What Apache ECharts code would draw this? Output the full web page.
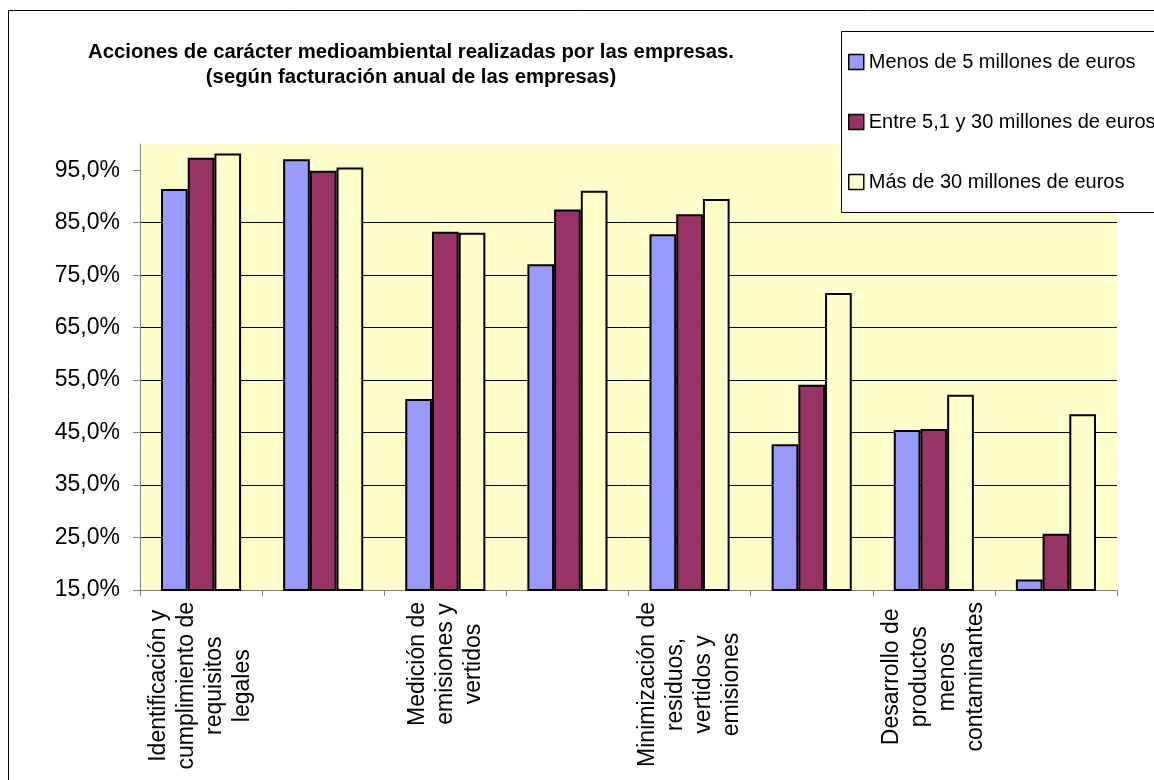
<!DOCTYPE html>
<html>
<head>
<meta charset="utf-8">
<script src="https://cdn.jsdelivr.net/npm/echarts@6/dist/echarts.min.js"></script>
<style>
html,body{margin:0;padding:0;background:#fff;}
#chart{width:1154px;height:780px;}
</style>
</head>
<body>
<div id="chart"></div>
<script>
var categories = [
  'Identificación y\ncumplimiento de\nrequisitos\nlegales',
  '',
  'Medición de\nemisiones y\nvertidos',
  '',
  'Minimización de\nresiduos,\nvertidos y\nemisiones',
  '',
  'Desarrollo de\nproductos\nmenos\ncontaminantes',
  ''
];
var seriesNames = ['Menos de 5 millones de euros', 'Entre 5,1 y 30 millones de euros', 'Más de 30 millones de euros'];
var menos5 = [91.4, 97.1, 51.4, 77.1, 82.8, 42.8, 45.5, 17.0];
var entre5y30 = [97.4, 94.9, 83.3, 87.5, 86.6, 54.1, 45.7, 25.7];
var mas30 = [98.2, 95.5, 83.1, 91.1, 89.5, 71.6, 52.2, 48.5];
var yTicks = [15, 25, 35, 45, 55, 65, 75, 85, 95];
var titleLines = ['Acciones de carácter medioambiental realizadas por las empresas.', '(según facturación anual de las empresas)'];

var FONT = '"Liberation Sans", Arial, sans-serif';
var colors = ['#9999FF', '#993366', '#FFFFCC'];

var chart = echarts.init(document.getElementById('chart'), null, {renderer: 'canvas'});
var values = [menos5, entre5y30, mas30];

function bar(i) {
  return {
    name: seriesNames[i],
    type: 'bar',
    data: values[i],
    barGap: '0%',
    barCategoryGap: '34.4%',
    clip: true,
    itemStyle: {color: colors[i], borderColor: '#000', borderWidth: 2},
    emphasis: {disabled: true}
  };
}

chart.setOption({
  animation: false,
  backgroundColor: '#fff',
  textStyle: {fontFamily: FONT},
  graphic: [
    {type: 'rect', shape: {x: 8.5, y: 10.5, width: 1400, height: 1000}, style: {fill: 'none', stroke: '#000', lineWidth: 1}, z: -1, silent: true},
    {type: 'rect', shape: {x: 841.5, y: 31.5, width: 400, height: 181}, style: {fill: '#fff', stroke: '#000', lineWidth: 1}, z: 50, silent: true},
    {type: 'text', x: 411, y: 39.5, style: {text: titleLines.join('\n'), font: 'bold 20.3px ' + FONT, textAlign: 'center', textVerticalAlign: 'top', lineHeight: 25, fill: '#000'}, silent: true}
  ],
  legend: {
    orient: 'vertical',
    left: 841,
    top: 31,
    padding: [19, 0, 18, 7],
    itemGap: 36,
    itemWidth: 15,
    itemHeight: 15,
    icon: 'rect',
    borderWidth: 0,
    textStyle: {fontSize: 20, fontFamily: FONT, color: '#000', lineHeight: 24},
    itemStyle: {borderWidth: 1.5, borderColor: '#000'},
    data: seriesNames,
    selectedMode: false,
    z: 60
  },
  grid: {
    left: 140, right: 37, top: 144, bottom: 190,
    show: true, backgroundColor: '#FFFFCC', borderWidth: 0,
    containLabel: false
  },
  xAxis: {
    type: 'category',
    data: categories,
    axisLine: {lineStyle: {color: '#808080', width: 1}},
    axisTick: {show: true, length: 6, lineStyle: {color: '#808080'}},
    axisLabel: {
      interval: 0,
      rotate: 90,
      margin: 12,
      color: '#000',
      fontSize: 23,
      fontFamily: FONT,
      lineHeight: 28,
      formatter: function (v) {
        if (!v) return '';
        return v.split('\n').map(function (s) { return '{c|' + s + '}'; }).join('\n');
      },
      rich: {c: {align: 'center', fontSize: 23, fontFamily: FONT, lineHeight: 28, color: '#000'}}
    },
    splitLine: {show: false}
  },
  yAxis: {
    type: 'value',
    min: 15,
    max: 100,
    interval: 10,
    axisLine: {show: true, lineStyle: {color: '#808080', width: 1}},
    axisTick: {show: true, length: 7, inside: false, lineStyle: {color: '#808080'}, customValues: yTicks},
    axisLabel: {
      customValues: yTicks,
      margin: 20,
      color: '#000',
      fontSize: 23,
      fontFamily: FONT,
      formatter: function (v) { return v.toFixed(1).replace('.', ',') + '%'; }
    },
    splitLine: {show: true, showMaxLine: false, showMinLine: false, lineStyle: {color: '#000', width: 1}}
  },
  series: [bar(0), bar(1), bar(2)]
});
</script>
</body>
</html>
